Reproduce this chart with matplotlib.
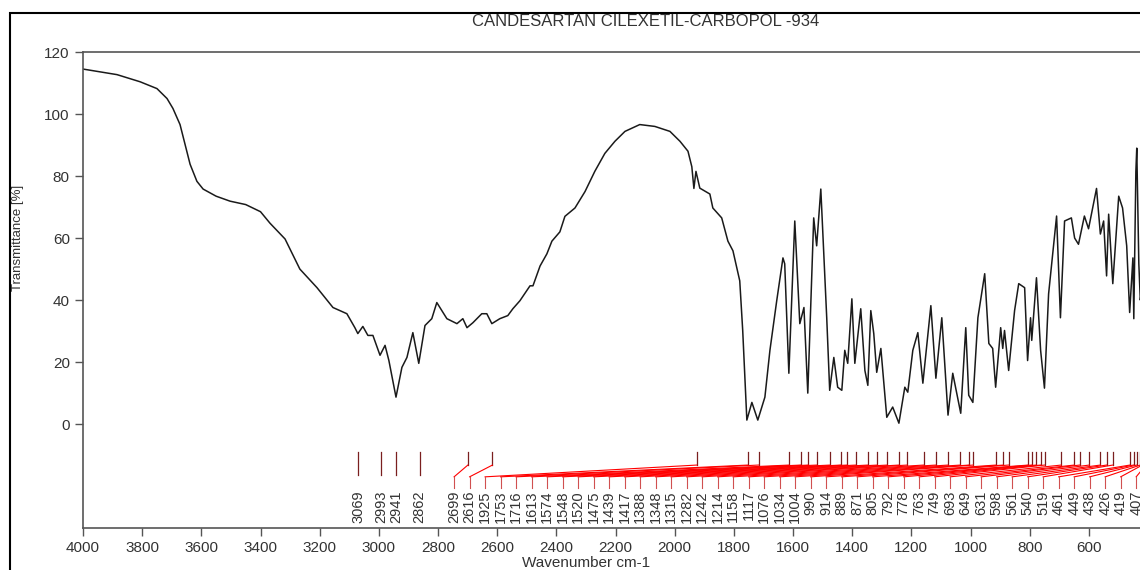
import numpy as np
import matplotlib
matplotlib.use("Agg")
import matplotlib.pyplot as plt
from matplotlib.patches import Rectangle

plt.rcParams['font.family'] = ['Liberation Sans', 'DejaVu Sans']

title = "CANDESARTAN CILEXETIL-CARBOPOL -934"

# spectrum (wavenumber cm-1, transmittance %)
wavenumber = [4000, 3885, 3807, 3750, 3716, 3696, 3672, 3655, 3638, 3615, 3594, 3550, 3503,
              3450, 3400, 3368, 3317, 3267, 3209, 3155, 3108, 3081, 3071, 3054, 3037, 3020,
              2996, 2979, 2966, 2942, 2922, 2905, 2885, 2865, 2844, 2821, 2804, 2770, 2736,
              2716, 2702, 2682, 2652, 2635, 2618, 2591, 2564, 2547, 2523, 2489, 2479, 2455,
              2432, 2415, 2388, 2371, 2337, 2303, 2270, 2236, 2202, 2168, 2118, 2067, 2016,
              1982, 1955, 1942, 1935, 1928, 1915, 1881, 1871, 1841, 1820, 1803, 1780, 1770,
              1756, 1739, 1719, 1695, 1678, 1655, 1634, 1628, 1614, 1594, 1577, 1563, 1550,
              1530, 1520, 1506, 1486, 1476, 1462, 1449, 1435, 1425, 1415, 1401, 1391, 1371,
              1357, 1347, 1337, 1327, 1317, 1303, 1283, 1263, 1242, 1222, 1212, 1195, 1178,
              1161, 1134, 1117, 1097, 1076, 1060, 1033, 1016, 1006, 992, 975, 952, 938, 925,
              915, 898, 891, 885, 871, 851, 837, 817, 807, 797, 793, 777, 763, 750, 736, 709,
              696, 682, 659, 648, 635, 615, 601, 574, 561, 550, 540, 533, 519, 499, 486, 472,
              462, 451, 448, 441, 438, 431, 426, 419, 407]
transmittance = [114.5, 112.7, 110.4, 108.2, 105.0, 101.8, 96.6, 90.2, 83.8, 78.3, 75.8, 73.5, 71.9,
                 70.8, 68.5, 64.8, 59.7, 50.0, 44.0, 37.6, 35.6, 31.1, 29.2, 31.5, 28.6, 28.6,
                 22.2, 25.4, 20.5, 8.7, 18.3, 21.5, 29.5, 19.6, 31.8, 34.0, 39.2, 34.0, 32.4,
                 34.0, 31.1, 32.7, 35.6, 35.6, 32.4, 34.0, 35.0, 37.2, 39.8, 44.6, 44.6, 51.0,
                 54.9, 59.0, 62.0, 67.0, 69.7, 75.0, 81.5, 87.3, 91.2, 94.4, 96.6, 96.0, 94.4,
                 91.2, 88.0, 83.0, 76.0, 81.5, 76.1, 74.2, 69.7, 66.5, 59.0, 55.9, 46.2, 30.2,
                 1.3, 7.0, 1.3, 8.7, 23.8, 39.8, 53.6, 51.7, 16.4, 65.5, 32.4, 37.6, 10.0,
                 66.5, 57.5, 75.8, 34.3, 10.9, 21.5, 11.9, 10.9, 23.8, 19.6, 40.4, 19.6, 37.2,
                 17.3, 12.5, 36.6, 29.2, 16.7, 24.4, 2.2, 5.5, 0.3, 11.9, 10.3, 23.8, 29.5,
                 13.2, 38.2, 14.8, 34.3, 2.9, 16.4, 3.5, 31.1, 9.3, 7.0, 34.3, 48.5, 26.0, 24.4,
                 11.9, 31.1, 24.4, 30.2, 17.3, 36.6, 45.3, 44.0, 20.5, 34.3, 27.0, 47.2, 23.8, 11.6, 42.0, 67.1,
                 34.3, 65.5, 66.5, 60.0, 58.0, 67.1, 63.0, 76.0, 61.3, 65.5, 47.8, 67.7, 45.3, 73.5, 69.7, 57.5,
                 36.0, 53.6, 34.0, 81.5, 89.0, 51.7, 40.0, 45.0, 55.0]

# picked peaks
peaks = [3069, 2993, 2941, 2862, 2699, 2616, 1925, 1753, 1716, 1613, 1574, 1548, 1520,
         1475, 1439, 1417, 1388, 1348, 1315, 1282, 1242, 1214, 1158, 1117, 1076, 1034,
         1004, 990, 914, 889, 871, 805, 792, 778, 763, 749, 693, 649, 631, 598, 561, 540,
         519, 461, 449, 438, 426, 419, 407]

fig = plt.figure(figsize=(11.4, 5.7), dpi=100)
ax = fig.add_axes([83/1140, 1-528/570, 1065/1140, 476/570])

ax.plot(wavenumber, transmittance, color='#1a1a1a', lw=1.1)

ax.set_xlim(4000, 400)
ax.set_ylim(-33.5, 120)
ax.set_xticks(np.arange(4000, 599, -200))
ax.set_yticks(np.arange(0, 121, 20))
ax.tick_params(labelsize=11, colors='#555555', labelcolor='#333333', length=6, width=1)
ax.spines['right'].set_visible(False)
for s in ['left', 'bottom', 'top']:
    ax.spines[s].set_color('#555555')
    ax.spines[s].set_linewidth(1.2)

# spread the peak labels so they do not overlap (packed from the right)
gap = 52.4
pos = list(peaks)
pos[-1] = max(peaks[-1], 440)
for i in range(len(peaks)-2, -1, -1):
    pos[i] = max(peaks[i], pos[i+1] + gap)

for p, q in zip(peaks, pos):
    shifted = abs(p - q) > 2
    if shifted:
        ax.plot([p, p], [-9, -13.2], color='#7a1f1f', lw=0.9)
        ax.plot([p, q], [-13.2, -17], color='red', lw=0.8)
        ax.plot([q, q], [-17, -20.5], color='#d05050', lw=0.8)
    else:
        ax.plot([p, p], [-9, -16.5], color='#7a1f1f', lw=0.9)
    ax.text(q, -21.3, str(p), rotation=90, ha='center', va='top',
            fontsize=10.5, color='#333333')

fig.text(646/1140, 1-22/570, title, ha='center', va='center', fontsize=12, color='#333333')
fig.text(18/1140, 1-238/570, 'Transmittance [%]', rotation=90, ha='center', va='center',
         fontsize=9.5, color='#333333')
fig.text(586/1140, 1-563/570, 'Wavenumber cm-1', ha='center', va='center',
         fontsize=11, color='#333333')

# outer frame of the exported picture
fig.patches.append(Rectangle((10/1140, -0.1), 1.2, 1.1 - 13/570, fill=False,
                             edgecolor='black', lw=1.5, transform=fig.transFigure))

fig.savefig('out.png', dpi=100)
